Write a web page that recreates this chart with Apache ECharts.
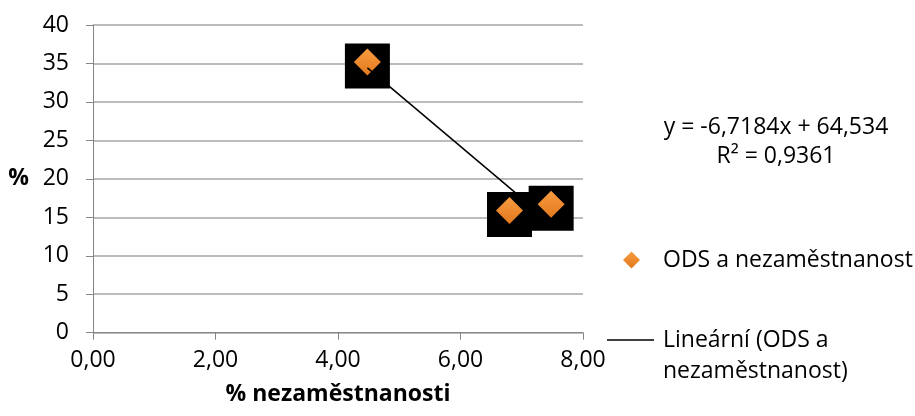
<!DOCTYPE html>
<html>
<head>
<meta charset="utf-8">
<script src="https://cdn.jsdelivr.net/npm/echarts@6/dist/echarts.min.js"></script>
<style>html,body{margin:0;padding:0;background:#fff;}#c{width:915px;height:416px;}</style>
</head>
<body>
<div id="c"></div>
<script>
// Data
var unemployment = [4.48, 6.80, 7.48];      // % nezaměstnanosti
var odsShare = [35.2, 15.9, 16.7];          // %
var trendX = [4.48, 7.48];                  // trend line endpoints (x)
var trendY = [34.43, 14.28];                // trend line endpoints (y)
var xTicks = [0, 2, 4, 6, 8];
var yTicks = [0, 5, 10, 15, 20, 25, 30, 35, 40];
var seriesName = 'ODS a nezaměstnanost';
var trendName = 'Lineární (ODS a nezaměstnanost)';
var trendLegendLine1 = 'Lineární (ODS a';
var trendLegendLine2 = 'nezaměstnanost)';
var equationText = 'y = -6,7184x + 64,534';
var r2Text = 'R² = 0,9361';

var FONT = '"Open Sans", "DejaVu Sans", sans-serif';
var FS = 23;
var points = unemployment.map(function (x, i) { return [x, odsShare[i]]; });
var trend = trendX.map(function (x, i) { return [x, trendY[i]]; });

var chart = echarts.init(document.getElementById('c'), null, { renderer: 'canvas' });
chart.setOption({
  animation: false,
  backgroundColor: '#fff',
  grid: { left: 93, right: 332, top: 25, bottom: 83.3, containLabel: false },
  xAxis: {
    type: 'value',
    min: xTicks[0], max: xTicks[xTicks.length - 1], interval: 2,
    name: '% nezaměstnanosti',
    nameLocation: 'middle',
    nameGap: 50,
    nameTextStyle: { fontFamily: FONT, fontSize: FS, fontWeight: 'bold', color: '#000' },
    axisLine: { lineStyle: { color: '#868686', width: 1 } },
    axisTick: { show: true, length: 7, lineStyle: { color: '#868686' } },
    axisLabel: {
      margin: 16, fontFamily: FONT, fontSize: FS, color: '#000',
      formatter: function (v) { return v.toFixed(2).replace('.', ','); }
    },
    splitLine: { show: false }
  },
  yAxis: {
    type: 'value',
    min: yTicks[0], max: yTicks[yTicks.length - 1], interval: 5,
    name: '%',
    nameLocation: 'middle',
    nameRotate: 0,
    nameGap: 64,
    nameTextStyle: { fontFamily: FONT, fontSize: FS, fontWeight: 'bold', color: '#000' },
    axisLine: { show: true, lineStyle: { color: '#868686', width: 1 } },
    axisTick: { show: true, length: 7, lineStyle: { color: '#868686' } },
    axisLabel: { margin: 24, fontFamily: FONT, fontSize: FS, color: '#000' },
    splitLine: { show: true, lineStyle: { color: '#a6a6a6', width: 1.5 } }
  },
  legend: [
    {
      data: [seriesName],
      left: 623, top: 245, padding: 0,
      itemWidth: 17, itemHeight: 17,
      selectedMode: false,
      textStyle: { fontFamily: FONT, fontSize: FS, color: '#000', lineHeight: 30, padding: [0, 0, 0, 18] }
    },
    {
      data: [trendName],
      left: 607, top: 325, padding: 0,
      itemWidth: 47, itemHeight: 1.5,
      icon: 'rect',
      selectedMode: false,
      formatter: function () { return trendLegendLine1; },
      textStyle: { fontFamily: FONT, fontSize: FS, color: '#000', lineHeight: 30, padding: [0, 0, 0, 4] }
    }
  ],
  graphic: [
    {
      type: 'text', x: 776, y: 113,
      style: {
        text: equationText + '\n' + r2Text,
        align: 'center', verticalAlign: 'top',
        font: FS + 'px ' + FONT, lineHeight: 29, fill: '#000'
      }
    },
    {
      type: 'text', x: 663, y: 356,
      style: {
        text: trendLegendLine2,
        align: 'left', verticalAlign: 'top',
        font: FS + 'px ' + FONT, lineHeight: 30, fill: '#000'
      }
    }
  ],
  series: [
    {
      name: 'marker-shadow',
      type: 'scatter',
      data: points,
      symbol: 'rect',
      symbolSize: 45,
      symbolOffset: [0, 4],
      itemStyle: { color: '#000', opacity: 1 },
      silent: true,
      z: 1
    },
    {
      name: seriesName,
      type: 'scatter',
      data: points,
      symbol: 'diamond',
      symbolSize: 27,
      itemStyle: {
        opacity: 1,
        color: new echarts.graphic.LinearGradient(0, 0, 0, 1, [
          { offset: 0, color: '#F99C40' },
          { offset: 1, color: '#E2781C' }
        ])
      },
      z: 2
    },
    {
      name: trendName,
      type: 'line',
      data: trend,
      showSymbol: false,
      symbol: 'none',
      lineStyle: { color: '#000', width: 1.5 },
      itemStyle: { color: '#000' },
      z: 3
    }
  ]
});
</script>
</body>
</html>
